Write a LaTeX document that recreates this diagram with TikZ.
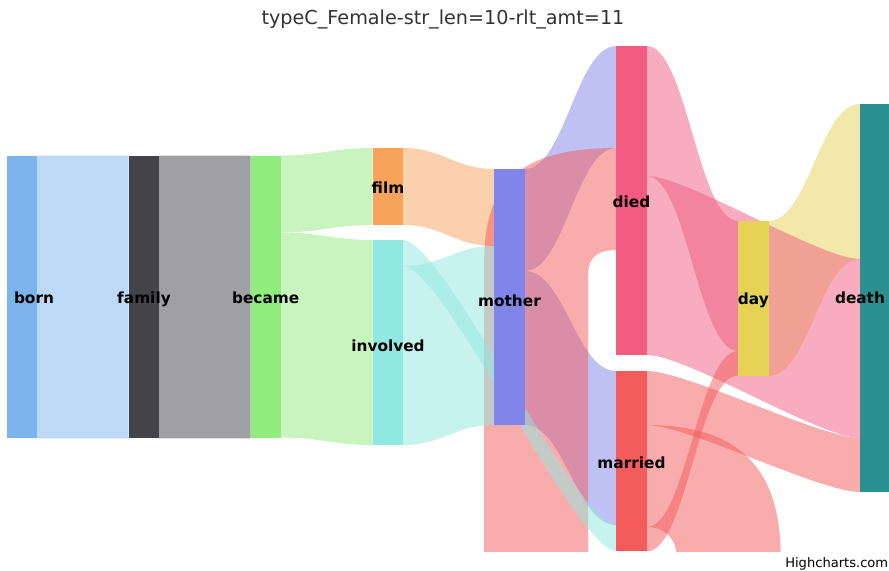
\documentclass[tikz,border=0pt]{standalone}
\usepackage{fontspec}
\setmainfont{DejaVu Sans}
\usetikzlibrary{calc,backgrounds}
\definecolor{cborn}{HTML}{7CB5EC}
\definecolor{cfamily}{HTML}{434348}
\definecolor{cbecame}{HTML}{90ED7D}
\definecolor{cfilm}{HTML}{F7A35C}
\definecolor{cmother}{HTML}{8085E9}
\definecolor{cdied}{HTML}{F15C80}
\definecolor{cday}{HTML}{E4D354}
\definecolor{cdeath}{HTML}{2B908F}
\definecolor{cmarried}{HTML}{F45B5B}
\definecolor{cinvolved}{HTML}{91E8E1}
\definecolor{ctitle}{HTML}{333333}
% forward flow: colour, from node, offset at from, to node, offset at to, height
\newcommand\flow[6]{%
  \path ($(#2.north east)+(0,#3)$) coordinate (fa)
        ($(#2.north east)+(0,#3+#6)$) coordinate (fb)
        ($(#4.north west)+(0,#5)$) coordinate (ta)
        ($(#4.north west)+(0,#5+#6)$) coordinate (tb);
  \fill[#1, flowfill]
    (fa) .. controls ($(fa)+(40,0)$) and ($(ta)+(-40,0)$) .. (ta)
    -- (tb) .. controls ($(tb)+(-40,0)$) and ($(fb)+(40,0)$) .. (fb) -- cycle;
}
\begin{document}
\begin{tikzpicture}[x=0.75pt,y=-0.75pt,
  nd/.style={inner sep=0pt, outer sep=0pt, minimum width={30.5*0.75pt}, anchor=north west, draw=none},
  flowfill/.style={fill opacity=0.5},
  lbltext/.style={font=\bfseries\fontsize{11.5}{13}\selectfont, inner sep=0pt, anchor=base, text=black}]
\useasboundingbox (0,0) rectangle (889,571);

% nodes
\node[nd, fill=cborn,     minimum height={282.8*0.75pt}] (born)     at (6.7,155.5) {};
\node[nd, fill=cfamily,   minimum height={282.8*0.75pt}] (family)   at (128.6,155.5) {};
\node[nd, fill=cbecame,   minimum height={282.8*0.75pt}] (became)   at (250.5,155.5) {};
\node[nd, fill=cfilm,     minimum height={77*0.75pt}]    (film)     at (372.5,148) {};
\node[nd, fill=cinvolved, minimum height={205*0.75pt}]   (involved) at (372.5,240) {};
\node[nd, fill=cmother,   minimum height={256*0.75pt}]   (mother)   at (494.3,169) {};
\node[nd, fill=cdied,     minimum height={309*0.75pt}]   (died)     at (616.2,46) {};
\node[nd, fill=cmarried,  minimum height={180*0.75pt}]   (married)  at (616.2,371) {};
\node[nd, fill=cday,      minimum height={155*0.75pt}]   (day)      at (738.1,221) {};
\node[nd, fill=cdeath,    minimum height={388*0.75pt}]   (death)    at (860,104) {};

% links
\begin{pgfonlayer}{background}
\fill[white] (0,0) rectangle (889,571);
\begin{scope}
\clip (0,0) rectangle (889,551.5);
\flow{cborn}{born}{0}{family}{0}{282.8}
\flow{cfamily}{family}{0}{became}{0}{282.8}
\flow{cbecame}{became}{0}{film}{0}{77}
\flow{cbecame}{became}{77}{involved}{0}{205}
\flow{cfilm}{film}{0}{mother}{0}{77}
\flow{cmother}{mother}{0}{died}{0}{102}
\flow{cmother}{mother}{102}{married}{0}{154}
\flow{cday}{day}{0}{death}{0}{155}
\flow{cdied}{died}{0}{day}{0}{130}
\flow{cdied}{died}{130}{death}{155}{179}
\flow{cmarried}{married}{0}{death}{334}{54}
% backward loop married -> died
\coordinate (mdA) at ($(married.north east)+(0,54)$);
\coordinate (mdB) at ($(married.north east)+(0,156)$);
\coordinate (mdC) at ($(died.north west)+(0,102)$);
\coordinate (mdD) at ($(died.north west)+(0,204)$);
\fill[cmarried, flowfill]
  (mdA) .. controls ($(mdA)+(94,0)$) and ($(mdA)+(134,45)$) .. ($(mdA)+(134,132)$)
  |- ($(mdC)+(-132,450)$)
  -- ($(mdC)+(-132,112)$)
  .. controls ($(mdC)+(-132,27)$) and ($(mdC)+(-86,0)$) .. (mdC)
  -- (mdD)
  .. controls ($(mdD)+(-16,0)$) and ($(mdD)+(-28,5)$) .. ($(mdD)+(-28,25)$)
  |- ($(mdB)+(30,40)$)
  -- ($(mdB)+(30,30)$)
  .. controls ($(mdB)+(30,13)$) and ($(mdB)+(19,0)$) .. (mdB) -- cycle;
\flow{cmarried}{married}{156}{day}{130}{24.5}
\flow{cinvolved}{involved}{26}{mother}{77}{179}
\flow{cinvolved}{involved}{0}{married}{154}{26}
\end{scope}
\end{pgfonlayer}

% labels
\node[lbltext] (lborn)     at (34,303)    {born};
\node[lbltext] (lfamily)   at (144,303)   {family};
\node[lbltext] (lbecame)   at (265.7,303) {became};
\node[lbltext] (lfilm)     at (388,193)   {film};
\node[lbltext] (linvolved) at (388,351)   {involved};
\node[lbltext] (lmother)   at (509.5,306) {mother};
\node[lbltext] (ldied)     at (631.5,207) {died};
\node[lbltext] (lmarried)  at (631.5,468) {married};
\node[lbltext] (lday)      at (753.4,304) {day};
\node[lbltext] (ldeath)    at (860,303)   {death};

% title and credits
\node[anchor=base, inner sep=0pt, text=ctitle, font=\fontsize{14.4}{16}\selectfont] (title) at (443,24) {typeC\_Female-str\_len=10-rlt\_amt=11};
\node[anchor=base west, inner sep=0pt, text=black, font=\fontsize{9.8}{11}\selectfont] (credits) at (785,567) {Highcharts.com};
\end{tikzpicture}
\end{document}
